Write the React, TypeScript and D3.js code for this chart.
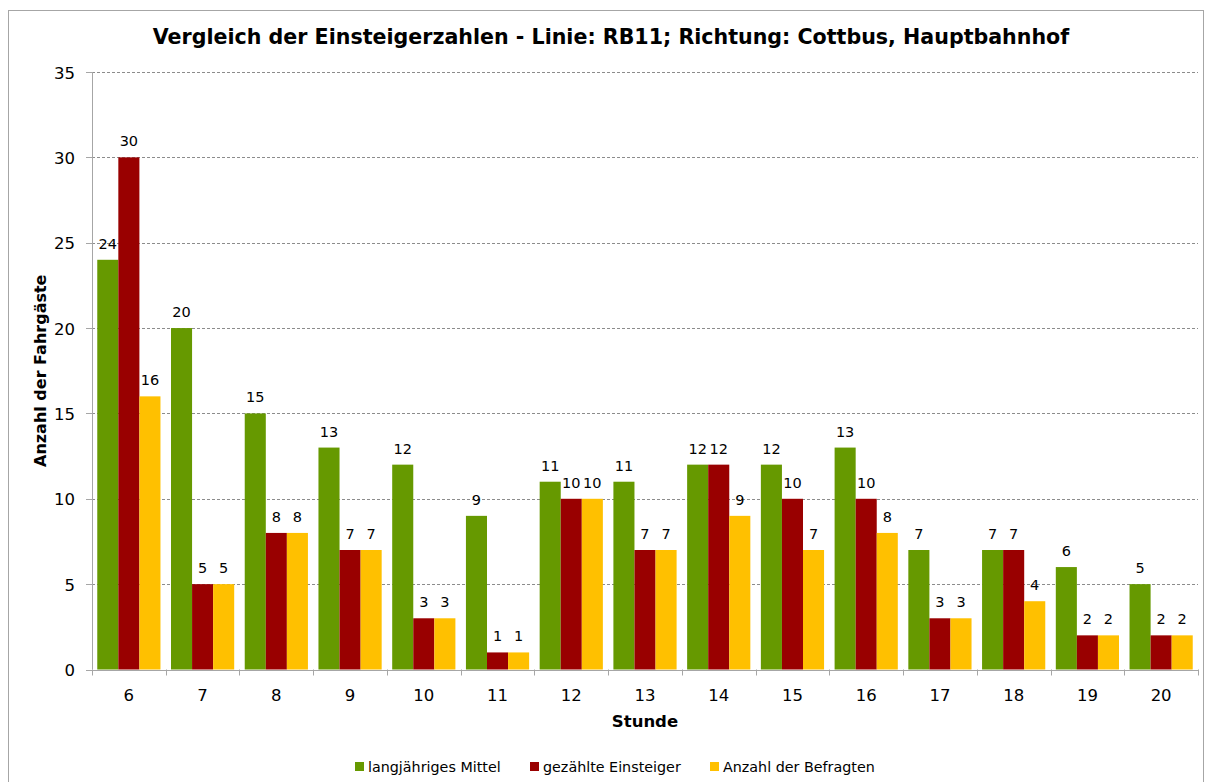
import React from "react";
import * as d3 from "d3";

const hours = ["6", "7", "8", "9", "10", "11", "12", "13", "14", "15", "16", "17", "18", "19", "20"];
const mittel = [24, 20, 15, 13, 12, 9, 11, 11, 12, 12, 13, 7, 7, 6, 5];
const gezaehlt = [30, 5, 8, 7, 3, 1, 10, 7, 12, 10, 10, 3, 7, 2, 2];
const befragt = [16, 5, 8, 7, 3, 1, 10, 7, 9, 7, 8, 3, 4, 2, 2];
const seriesNames = ["langjähriges Mittel", "gezählte Einsteiger", "Anzahl der Befragten"];
const seriesColors = ["#669900", "#990000", "#FFC000"];
const yTicks = [0, 5, 10, 15, 20, 25, 30, 35];
const title = "Vergleich der Einsteigerzahlen - Linie: RB11; Richtung: Cottbus, Hauptbahnhof";

const W = 1205;
const H = 782;
const left = 92;
const right = 1198;
const top = 72;
const bottom = 669.5;
const font = "Tahoma, 'DejaVu Sans', sans-serif";

export default function App() {
  const series = [mittel, gezaehlt, befragt];
  const x = d3.scaleBand<string>().domain(hours).range([left, right]).paddingInner(0).paddingOuter(0);
  const bw = x.bandwidth();
  const barW = bw / 3.5;
  const gap = (bw - 3 * barW) / 2;
  const xs = d3.scaleBand<number>().domain([0, 1, 2]).range([gap, gap + 3 * barW]);
  const y = d3.scaleLinear().domain([0, 35]).range([bottom, top]);

  const legendX = [355, 530, 710];

  return (
    <svg width={W} height={H} style={{ position: "absolute", left: 0, top: 0, background: "#fff" }} fontFamily={font}>
      <rect x={8.5} y={10.5} width={1195} height={800} fill="#fff" stroke="#a6a6a6" strokeWidth={1} />
      <text x={611} y={44} textAnchor="middle" fontSize={20.6} fontWeight="bold" fill="#000">{title}</text>

      {yTicks.map((t) => (
        <g key={t}>
          {t > 0 && (
            <line x1={left} x2={right} y1={Math.round(y(t)) + 0.5} y2={Math.round(y(t)) + 0.5} stroke="#8c8c8c" strokeDasharray="3,2" strokeWidth={1} />
          )}
          <line x1={86} x2={left} y1={Math.round(y(t)) + 0.5} y2={Math.round(y(t)) + 0.5} stroke="#a6a6a6" />
          <text x={75} y={y(t) + 6.5} textAnchor="end" fontSize={16.5} fill="#000">{t}</text>
        </g>
      ))}

      {hours.map((h, i) => (
        <g key={h} transform={`translate(${x(h)},0)`}>
          {series.map((s, k) => (
            <rect key={k} x={xs(k)} y={y(s[i])} width={xs.bandwidth()} height={bottom - y(s[i])} fill={seriesColors[k]} />
          ))}
          {series.map((s, k) => (
            <text key={"l" + k} x={(xs(k) as number) + xs.bandwidth() / 2} y={y(s[i]) - 11} textAnchor="middle" fontSize={14.5} fill="#000">{s[i]}</text>
          ))}
        </g>
      ))}

      <line x1={left + 0.5} x2={left + 0.5} y1={top} y2={bottom} stroke="#a6a6a6" />
      <line x1={left} x2={right} y1={Math.round(bottom) + 0.5} y2={Math.round(bottom) + 0.5} stroke="#a6a6a6" />
      {[...hours.map((h) => x(h) as number), right].map((v, i) => (
        <line key={i} x1={Math.round(v) + 0.5} x2={Math.round(v) + 0.5} y1={bottom} y2={bottom + 6} stroke="#a6a6a6" />
      ))}
      {hours.map((h) => (
        <text key={h} x={(x(h) as number) + bw / 2} y={701} textAnchor="middle" fontSize={16.5} fill="#000">{h}</text>
      ))}

      <text x={(left + right) / 2} y={727} textAnchor="middle" fontSize={16.5} fontWeight="bold" fill="#000">Stunde</text>
      <text transform={`translate(46,${(top + bottom) / 2}) rotate(-90)`} textAnchor="middle" fontSize={16} fontWeight="bold" fill="#000">Anzahl der Fahrgäste</text>

      {seriesNames.map((n, k) => (
        <g key={n} transform={`translate(${legendX[k]},767)`}>
          <rect x={0} y={-5} width={9} height={9} fill={seriesColors[k]} />
          <text x={13} y={5} fontSize={14.3} fill="#000">{n}</text>
        </g>
      ))}
    </svg>
  );
}
